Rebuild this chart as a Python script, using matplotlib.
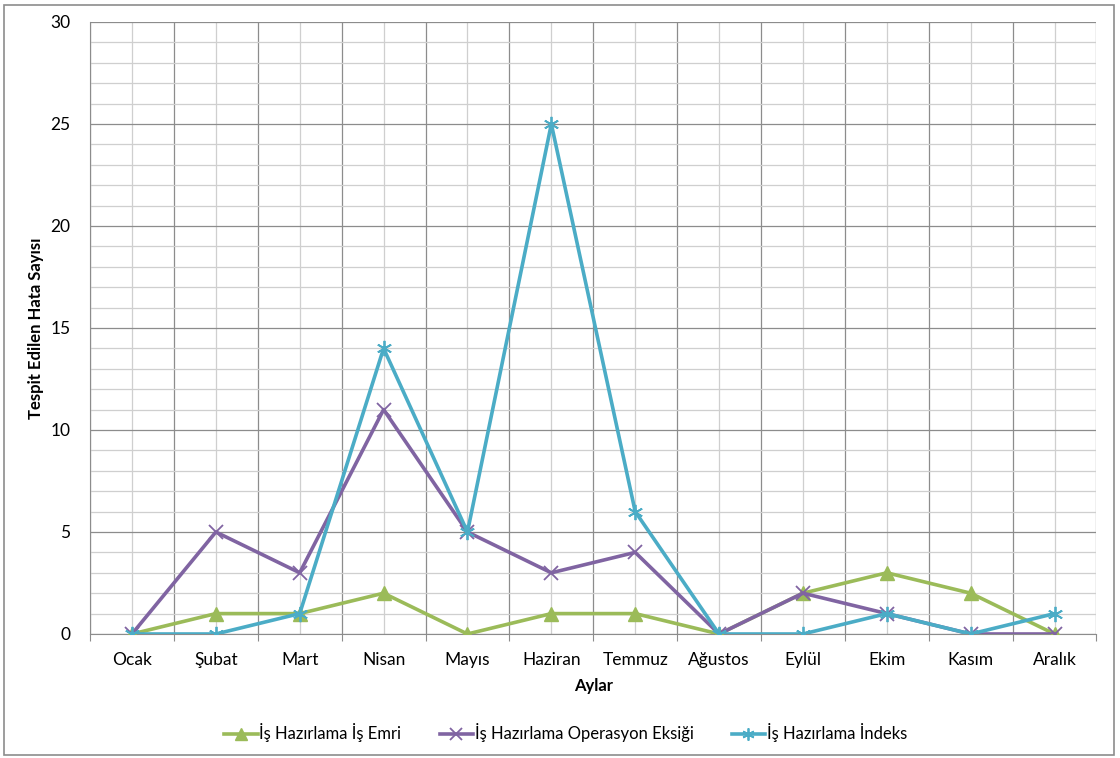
import numpy as np
import matplotlib.pyplot as plt
from matplotlib.patches import Rectangle
from matplotlib.ticker import MultipleLocator, FixedLocator

plt.rcParams['font.family'] = ['Lato', 'DejaVu Sans']

months = ['Ocak', 'Şubat', 'Mart', 'Nisan', 'Mayıs', 'Haziran', 'Temmuz',
          'Ağustos', 'Eylül', 'Ekim', 'Kasım', 'Aralık']
is_emri = [0, 1, 1, 2, 0, 1, 1, 0, 2, 3, 2, 0]
operasyon_eksigi = [0, 5, 3, 11, 5, 3, 4, 0, 2, 1, 0, 0]
indeks = [0, 0, 1, 14, 5, 25, 6, 0, 0, 1, 0, 1]

fig = plt.figure(figsize=(11.2, 7.58), dpi=100)
ax = fig.add_axes([0.0804, 0.1636, 0.8986, 0.8074])

x = np.arange(len(months))

ax.plot(x, is_emri, color='#9BBB59', lw=2.6, marker='^', ms=10,
        label='İş Hazırlama İş Emri', zorder=3)
ax.plot(x, operasyon_eksigi, color='#8064A2', lw=2.6, marker='x', ms=10,
        mew=1.3, label='İş Hazırlama Operasyon Eksiği', zorder=4)
ax.plot(x, indeks, color='#4BACC6', lw=2.6, marker=(6, 2, 0), ms=11,
        mew=1.3, label='İş Hazırlama İndeks', zorder=5)

ax.set_xlim(-0.5, len(months) - 0.5)
ax.set_ylim(0, 30)

# grid: category boundaries dark, centers light; y major 5, minor 1
ax.xaxis.set_major_locator(FixedLocator(np.arange(len(months) + 1) - 0.5))
ax.set_xticklabels([])
ax.set_xticks(x, minor=True)
ax.set_xticklabels(months, minor=True)
ax.yaxis.set_major_locator(MultipleLocator(5))
ax.yaxis.set_minor_locator(MultipleLocator(1))

ax.grid(which='major', color='#8c8c8c', lw=0.9)
ax.grid(which='minor', color='#cfcfcf', lw=0.9)
ax.set_axisbelow(True)

ax.tick_params(axis='x', which='major', length=5, color='#8c8c8c', direction='out')
ax.tick_params(axis='x', which='minor', length=0, labelsize=12.5, pad=13)
ax.tick_params(axis='y', which='both', length=0, labelsize=12.5, pad=14)

for side in ['top', 'right']:
    ax.spines[side].set_visible(False)
ax.spines['left'].set_color('#8c8c8c')
ax.spines['bottom'].set_color('#8c8c8c')

ax.set_xlabel('Aylar', fontsize=12, fontweight='bold', labelpad=7)
ax.set_ylabel('Tespit Edilen Hata Sayısı', fontsize=12, fontweight='bold', labelpad=5)

fig.legend(loc='center', bbox_to_anchor=(0.505, 0.033), ncol=3, frameon=False,
           fontsize=12, handlelength=2.0, handletextpad=0.1, columnspacing=2.3,
           markerscale=0.8)

fig.patches.append(Rectangle((0.004, 0.004), 0.991, 0.99, transform=fig.transFigure,
                             fill=False, edgecolor='#8c8c8c', lw=1.2))

fig.savefig('out.png', dpi=100)
